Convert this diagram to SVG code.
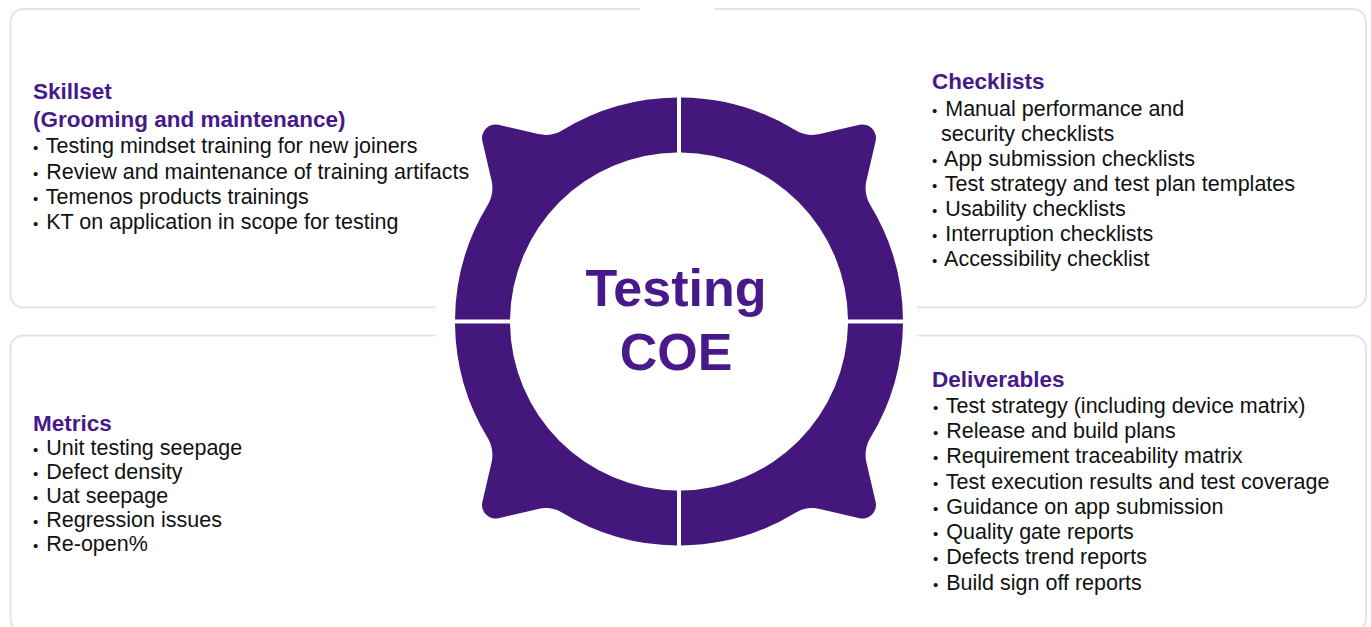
<svg xmlns="http://www.w3.org/2000/svg" xmlns:xlink="http://www.w3.org/1999/xlink" width="1371" height="627" viewBox="0 0 1371 627">
<style>
.box{fill:none;stroke:#dce6f2;stroke-width:2}
.h{font-family:"Liberation Sans",Arial,sans-serif;font-weight:bold;font-size:22.5px;fill:#47198a}
.t{font-family:"Liberation Sans",Arial,sans-serif;font-size:21.5px;fill:#111111}
.b{font-size:15px}
.ring{fill:#43177c}
.coe{font-family:"Liberation Sans",Arial,sans-serif;font-weight:bold;font-size:52px;fill:#47198a;text-anchor:middle}
</style>
<defs>
<path id="quad" d="M120.91,-118.08 L159.8,-156.97 A224,224 0 0 1 217.8,-52.3 C219.7,-44.5 225.2,-37.2 232,-33 L266.7,-11.4 A13.5,13.5 0 0 1 266.7,11.4 L232,33 C225.2,37.2 219.7,44.5 217.8,52.3 A224,224 0 0 1 159.8,156.97 L120.91,118.08 A169,169 0 0 0 120.91,-118.08 Z"/>
</defs>
<rect width="1371" height="627" fill="#ffffff"/>

<g id="skillset">
<path class="box" d="M640.5,9 H23.5 A13,13 0 0 0 10.5,22 V294.5 A13,13 0 0 0 23.5,307.5 H435.5"/>
<text class="h" x="33" y="99">Skillset</text>
<text class="h" x="33" y="127">(Grooming and maintenance)</text>
<text class="t" x="33" y="153"><tspan class="b">•</tspan><tspan dx="2"> Testing mindset training for new joiners</tspan></text>
<text class="t" x="33" y="179"><tspan class="b">•</tspan><tspan dx="2"> Review and maintenance of training artifacts</tspan></text>
<text class="t" x="33" y="204"><tspan class="b">•</tspan><tspan dx="2"> Temenos products trainings</tspan></text>
<text class="t" x="33" y="229"><tspan class="b">•</tspan><tspan dx="2"> KT on application in scope for testing</tspan></text>
</g>

<g id="checklists">
<path class="box" d="M715,9 H1353 A13,13 0 0 1 1366,22 V294.5 A13,13 0 0 1 1353,307.5 H917"/>
<text class="h" x="932" y="88.5">Checklists</text>
<text class="t" x="932" y="116"><tspan class="b">•</tspan><tspan dx="2"> Manual performance and</tspan></text>
<text class="t" x="941" y="141">security checklists</text>
<text class="t" x="932" y="166"><tspan class="b">•</tspan><tspan dx="2"> App submission checklists</tspan></text>
<text class="t" x="932" y="191"><tspan class="b">•</tspan><tspan dx="2"> Test strategy and test plan templates</tspan></text>
<text class="t" x="932" y="216"><tspan class="b">•</tspan><tspan dx="2"> Usability checklists</tspan></text>
<text class="t" x="932" y="241"><tspan class="b">•</tspan><tspan dx="2"> Interruption checklists</tspan></text>
<text class="t" x="932" y="266"><tspan class="b">•</tspan><tspan dx="2"> Accessibility checklist</tspan></text>
</g>

<g id="metrics">
<path class="box" d="M435.5,335.5 H23.5 A13,13 0 0 0 10.5,348.5 V619 A13,13 0 0 0 23.5,632 H435.5"/>
<text class="h" x="33" y="431">Metrics</text>
<text class="t" x="33" y="455"><tspan class="b">•</tspan><tspan dx="2"> Unit testing seepage</tspan></text>
<text class="t" x="33" y="479"><tspan class="b">•</tspan><tspan dx="2"> Defect density</tspan></text>
<text class="t" x="33" y="503"><tspan class="b">•</tspan><tspan dx="2"> Uat seepage</tspan></text>
<text class="t" x="33" y="527"><tspan class="b">•</tspan><tspan dx="2"> Regression issues</tspan></text>
<text class="t" x="33" y="551"><tspan class="b">•</tspan><tspan dx="2"> Re-open%</tspan></text>
</g>

<g id="deliverables">
<path class="box" d="M917,335.5 H1353 A13,13 0 0 1 1366,348.5 V619 A13,13 0 0 1 1353,632 H917"/>
<text class="h" x="932" y="387">Deliverables</text>
<text class="t" x="933" y="413"><tspan class="b">•</tspan><tspan dx="2"> Test strategy (including device matrix)</tspan></text>
<text class="t" x="933" y="438"><tspan class="b">•</tspan><tspan dx="2"> Release and build plans</tspan></text>
<text class="t" x="933" y="463"><tspan class="b">•</tspan><tspan dx="2"> Requirement traceability matrix</tspan></text>
<text class="t" x="933" y="488.5"><tspan class="b">•</tspan><tspan dx="2"> Test execution results and test coverage</tspan></text>
<text class="t" x="933" y="514"><tspan class="b">•</tspan><tspan dx="2"> Guidance on app submission</tspan></text>
<text class="t" x="933" y="539"><tspan class="b">•</tspan><tspan dx="2"> Quality gate reports</tspan></text>
<text class="t" x="933" y="564"><tspan class="b">•</tspan><tspan dx="2"> Defects trend reports</tspan></text>
<text class="t" x="933" y="590"><tspan class="b">•</tspan><tspan dx="2"> Build sign off reports</tspan></text>
</g>

<g id="testing-coe">
<use xlink:href="#quad" href="#quad" class="ring" transform="translate(679 321.5) rotate(225)"/>
<use xlink:href="#quad" href="#quad" class="ring" transform="translate(679 321.5) rotate(315)"/>
<use xlink:href="#quad" href="#quad" class="ring" transform="translate(679 321.5) rotate(45)"/>
<use xlink:href="#quad" href="#quad" class="ring" transform="translate(679 321.5) rotate(135)"/>
<text class="coe" x="676" y="306">Testing</text>
<text class="coe" x="676" y="370">COE</text>
</g>

<g id="connectors"/>
</svg>
